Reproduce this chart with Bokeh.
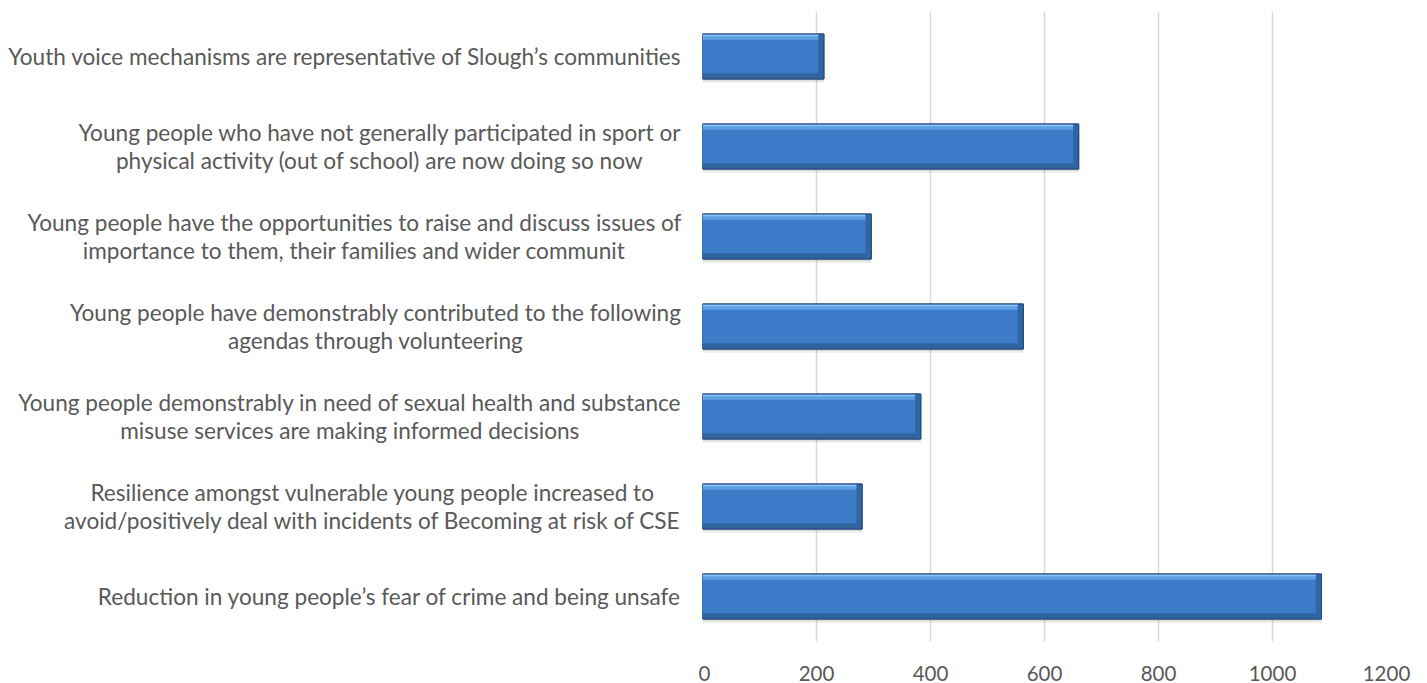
from bokeh.plotting import figure
from bokeh.models import FactorRange, Range1d, ColumnDataSource, FixedTicker
from bokeh.layouts import row
from bokeh.transform import dodge
from bokeh.core.properties import value
from bokeh.embed import file_html
from bokeh.resources import INLINE

# categories, top to bottom as shown
categories = [
    "Youth voice mechanisms are representative of Slough\u2019s communities",
    "Young people who have not generally participated in sport or\nphysical activity (out of school) are now doing so now",
    "Young people have the opportunities to raise and discuss issues of\nimportance to them, their families and wider communit",
    "Young people have demonstrably contributed to the following\nagendas through volunteering",
    "Young people demonstrably in need of sexual health and substance\nmisuse services are making informed decisions",
    "Resilience amongst vulnerable young people increased to\navoid/positively deal with incidents of Becoming at risk of CSE",
    "Reduction in young people\u2019s fear of crime and being unsafe",
]
values = [213, 660, 296, 563, 383, 280, 1086]
x_ticks = [0, 200, 400, 600, 800, 1000, 1200]

bevel_units = 10  # width of the darker right-end bevel, in data units
src = ColumnDataSource(dict(cat=categories, val=values,
                            bevel=[v - bevel_units for v in values]))
yr = FactorRange(factors=categories[::-1], range_padding=0)

H = 683
TEXT = "#595959"
FONT = "Lato"

left = figure(width=698, height=H, x_range=Range1d(0, 1), y_range=yr,
              x_axis_location=None, y_axis_location=None,
              output_backend="svg", toolbar_location=None,
              min_border_left=0, min_border_right=0, min_border_top=11, min_border_bottom=42)
left.grid.visible = False
left.outline_line_color = None
left.text(x=1, y="cat", text="cat", source=src, x_offset=-17,
          text_align="center", text_baseline="middle", anchor=value("center_right"),
          text_font=value(FONT), text_font_size="22.6px", text_color=TEXT,
          text_line_height=1.07)

p = figure(width=718, height=H, x_range=Range1d(0, 1200), y_range=yr,
           y_axis_location=None, output_backend="svg", toolbar_location=None,
           min_border_left=4, min_border_right=30, min_border_top=11, min_border_bottom=42)
p.outline_line_color = None
p.ygrid.visible = False
p.xgrid.ticker = FixedTicker(ticks=x_ticks)
p.xgrid.grid_line_color = "#d9d9d9"
p.xgrid.grid_line_width = 1.5
p.xaxis.ticker = FixedTicker(ticks=x_ticks)
p.xaxis.axis_line_color = None
p.xaxis.major_tick_line_color = None
p.xaxis.minor_tick_line_color = None
p.xaxis.major_label_standoff = 18
p.xaxis.major_label_text_font = FONT
p.xaxis.major_label_text_font_size = "20.5px"
p.xaxis.major_label_text_color = TEXT

# soft shadow
p.hbar(y=dodge("cat", -0.045, range=yr), left=0, right="val", height=0.5, source=src,
       fill_color="#000000", fill_alpha=0.06, line_color=None)
p.hbar(y=dodge("cat", -0.025, range=yr), left=0, right="val", height=0.5, source=src,
       fill_color="#000000", fill_alpha=0.09, line_color=None)
# base bar
p.hbar(y="cat", left=0, right="val", height=0.5, source=src,
       fill_color="#3c7cc9", line_color="#22497a", line_width=1)
# top bevel highlight
p.hbar(y=dodge("cat", 0.215, range=yr), left=0, right="val", height=0.06, source=src,
       fill_color="#5e9fe4", line_color=None)
p.hbar(y=dodge("cat", 0.237, range=yr), left=0, right="val", height=0.022, source=src,
       fill_color="#88c5f8", line_color=None)
# bottom bevel shade
p.hbar(y=dodge("cat", -0.215, range=yr), left=0, right="val", height=0.06, source=src,
       fill_color="#30649f", line_color=None)
# right-end bevel
p.hbar(y="cat", left="bevel", right="val", height=0.5, source=src,
       fill_color="#2f66a6", line_color=None)
# outline
p.hbar(y="cat", left=0, right="val", height=0.5, source=src,
       fill_color=None, line_color="#22497a", line_width=1)

layout = row(left, p)
open("out.html", "w").write(file_html(layout, INLINE))
